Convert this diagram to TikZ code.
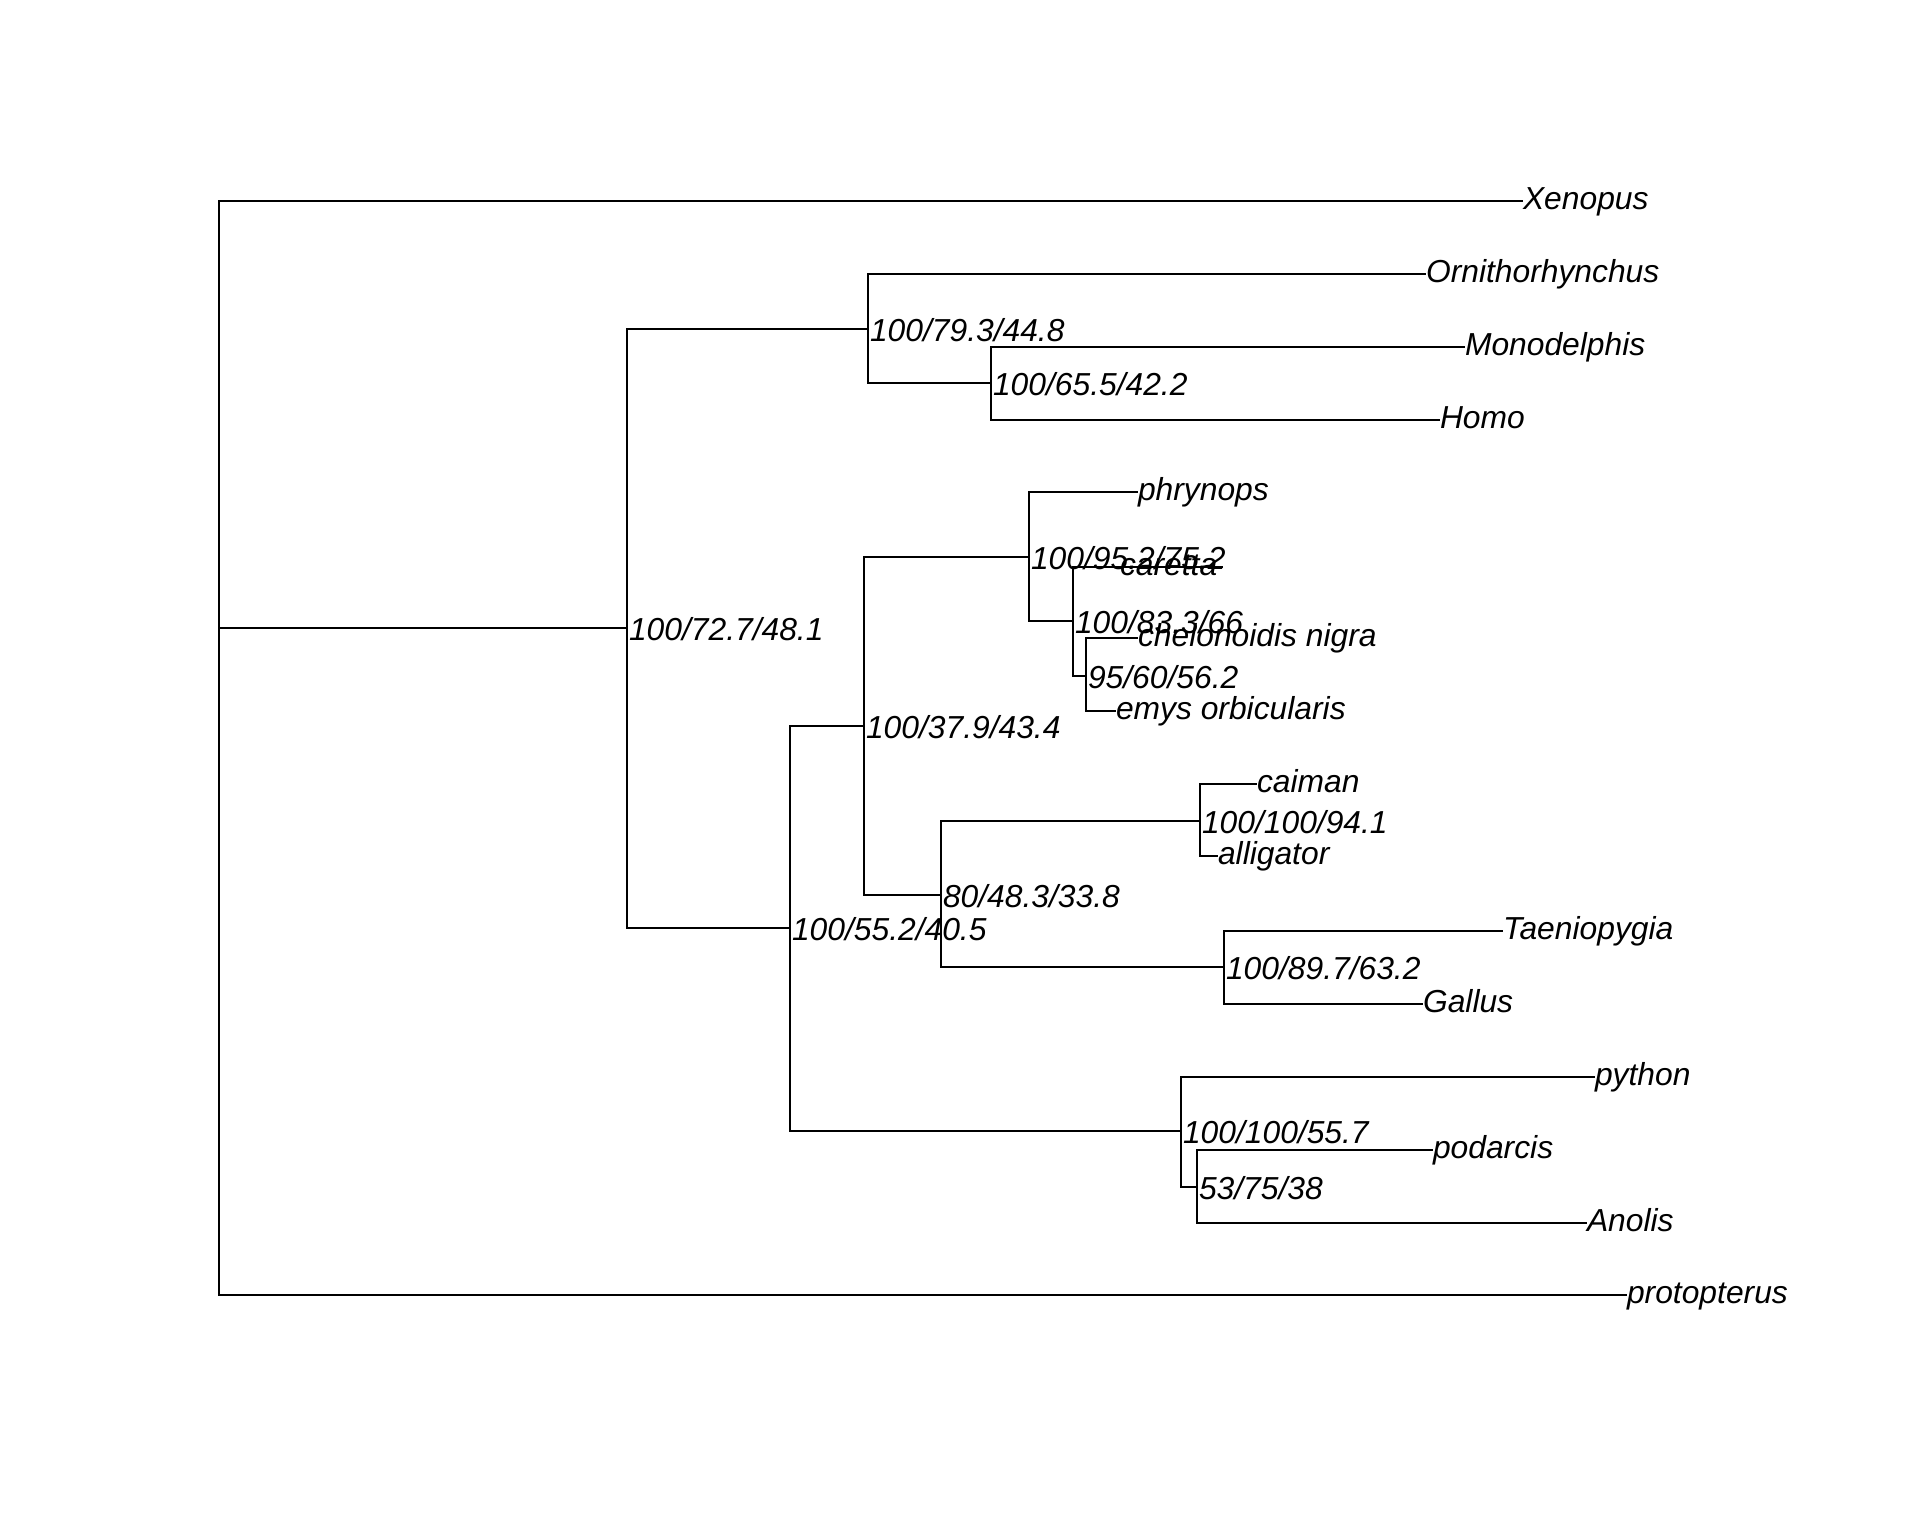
\documentclass[tikz,border=0pt]{standalone}
\usepackage{fontspec}
\setmainfont{Liberation Sans}
\begin{document}
\begin{tikzpicture}[x=0.5pt,y=-0.5pt,
  branch/.style={line width=1pt},
  labeltext/.style={anchor=base west, inner sep=0pt, outer sep=0pt,
    font=\fontsize{15.9}{19}\selectfont\itshape},
  taxon/.style={labeltext, yshift=-4.4pt},
  support/.style={labeltext, xshift=1pt, yshift=-6.4pt}]
% page frame
\fill[white] (0,0) rectangle (1920,1536);
\useasboundingbox (0,0) rectangle (1920,1536);

% internal nodes of the tree
\coordinate (root) at (219,628);
\coordinate (nA) at (627,628);
\coordinate (nB) at (868,329);
\coordinate (nD) at (991,383);
\coordinate (nC) at (790,928);
\coordinate (nE) at (864,726);
\coordinate (nF) at (1029,557);
\coordinate (nG) at (1073,621);
\coordinate (nH) at (1086,676);
\coordinate (nI) at (941,895);
\coordinate (nJ) at (1200,821);
\coordinate (nK) at (1224,967);
\coordinate (nL) at (1181,1131);
\coordinate (nM) at (1197,1187);

% tips
\coordinate (tXen) at (1523,201);
\coordinate (tOrn) at (1426,274);
\coordinate (tMon) at (1465,347);
\coordinate (tHom) at (1440,420);
\coordinate (tPhr) at (1138,492);
\coordinate (tCar) at (1223,567);
\coordinate (tChe) at (1138,638);
\coordinate (tEmy) at (1116,711);
\coordinate (tCai) at (1257,784);
\coordinate (tAll) at (1218,856);
\coordinate (tTae) at (1503,931);
\coordinate (tGal) at (1423,1004);
\coordinate (tPyt) at (1595,1077);
\coordinate (tPod) at (1433,1150);
\coordinate (tAno) at (1587,1223);
\coordinate (tPro) at (1627,1295);

% branches
\draw[branch] (root) |- (tXen);
\draw[branch] (root) |- (tPro);
\draw[branch] (root) -- (nA);
\draw[branch] (nA) |- (nB);
\draw[branch] (nA) |- (nC);
\draw[branch] (nB) |- (tOrn);
\draw[branch] (nB) |- (nD);
\draw[branch] (nD) |- (tMon);
\draw[branch] (nD) |- (tHom);
\draw[branch] (nC) |- (nE);
\draw[branch] (nC) |- (nL);
\draw[branch] (nE) |- (nF);
\draw[branch] (nE) |- (nI);
\draw[branch] (nF) |- (tPhr);
\draw[branch] (nF) |- (nG);
\draw[branch] (nG) |- (tCar);
\draw[branch] (nG) |- (nH);
\draw[branch] (nH) |- (tChe);
\draw[branch] (nH) |- (tEmy);
\draw[branch] (nI) |- (nJ);
\draw[branch] (nI) |- (nK);
\draw[branch] (nJ) |- (tCai);
\draw[branch] (nJ) |- (tAll);
\draw[branch] (nK) |- (tTae);
\draw[branch] (nK) |- (tGal);
\draw[branch] (nL) |- (tPyt);
\draw[branch] (nL) |- (nM);
\draw[branch] (nM) |- (tPod);
\draw[branch] (nM) |- (tAno);

% taxon names
\node[taxon] (lXen) at (tXen) {Xenopus};
\node[taxon] (lOrn) at (tOrn) {Ornithorhynchus};
\node[taxon] (lMon) at (tMon) {Monodelphis};
\node[taxon] (lHom) at (tHom) {Homo};
\node[taxon] (lPhr) at (tPhr) {phrynops};
\node[taxon] (lCar) at (1120,567) {caretta};
\node[taxon] (lChe) at (tChe) {chelonoidis nigra};
\node[taxon] (lEmy) at (tEmy) {emys orbicularis};
\node[taxon] (lCai) at (tCai) {caiman};
\node[taxon] (lAll) at (tAll) {alligator};
\node[taxon] (lTae) at (tTae) {Taeniopygia};
\node[taxon] (lGal) at (tGal) {Gallus};
\node[taxon] (lPyt) at (tPyt) {python};
\node[taxon] (lPod) at (tPod) {podarcis};
\node[taxon] (lAno) at (tAno) {Anolis};
\node[taxon] (lPro) at (tPro) {protopterus};

% support values
\node[support] (sA) at (nA) {100/72.7/48.1};
\node[support] (sB) at (nB) {100/79.3/44.8};
\node[support] (sD) at (nD) {100/65.5/42.2};
\node[support] (sC) at (nC) {100/55.2/40.5};
\node[support] (sE) at (nE) {100/37.9/43.4};
\node[support] (sF) at (nF) {100/95.2/75.2};
\node[support] (sG) at (nG) {100/83.3/66};
\node[support] (sH) at (nH) {95/60/56.2};
\node[support] (sI) at (nI) {80/48.3/33.8};
\node[support] (sJ) at (nJ) {100/100/94.1};
\node[support] (sK) at (nK) {100/89.7/63.2};
\node[support] (sL) at (nL) {100/100/55.7};
\node[support] (sM) at (nM) {53/75/38};
\end{tikzpicture}
\end{document}
